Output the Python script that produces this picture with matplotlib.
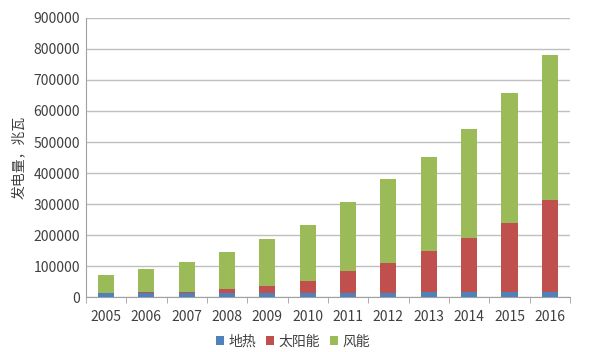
import matplotlib.pyplot as plt
import numpy as np

plt.rcParams["font.family"] = ["Noto Sans CJK SC", "DejaVu Sans"]

years = ["2005", "2006", "2007", "2008", "2009", "2010",
         "2011", "2012", "2013", "2014", "2015", "2016"]
geothermal = [12000, 13000, 14000, 14000, 14000, 14000,
              14000, 14000, 15000, 15000, 15000, 15000]
solar = [1000, 2000, 4000, 12000, 22000, 39000,
         69000, 96000, 132000, 174000, 224000, 299000]
wind = [59000, 75000, 94000, 119000, 151000, 179000,
        222000, 271000, 306000, 354000, 419000, 468000]

fig = plt.figure(figsize=(6, 3.52), dpi=100)
ax = fig.add_axes([0.143, 0.156, 0.807, 0.793])

x = np.arange(len(years))
w = 0.4
ax.bar(x, geothermal, w, color="#4F81BD", label="地热", zorder=3)
ax.bar(x, solar, w, bottom=geothermal, color="#C0504D", label="太阳能", zorder=3)
bottom2 = np.array(geothermal) + np.array(solar)
ax.bar(x, wind, w, bottom=bottom2, color="#9BBB59", label="风能", zorder=3)

ax.set_xlim(-0.5, len(years) - 0.5)
ax.set_ylim(0, 900000)
ax.set_yticks(np.arange(0, 900001, 100000))
ax.yaxis.grid(True, color="#BFBFBF", linewidth=1, zorder=0)

ax.set_xticks(x)
ax.set_xticklabels(years)
ax.set_xticks(np.arange(-0.5, len(years)), minor=True)
ax.tick_params(axis="x", which="major", length=0, pad=9, labelsize=10, colors="#404040")
ax.tick_params(axis="x", which="minor", length=4, color="#A0A0A0")
ax.tick_params(axis="y", length=0, labelsize=10, colors="#404040", pad=4)

for s in ["top", "right"]:
    ax.spines[s].set_visible(False)
ax.spines["left"].set_color("#A0A0A0")
ax.spines["bottom"].set_color("#A0A0A0")

ax.set_ylabel("发电量，兆瓦", fontsize=10, color="#404040", labelpad=6)

fig.legend(loc="center", bbox_to_anchor=(0.488, 0.03), ncol=3, frameon=False,
           fontsize=10, handlelength=0.6, handleheight=0.6, handletextpad=0.3,
           columnspacing=0.7, labelcolor="#404040", borderpad=0)

fig.savefig("out.png", dpi=100)
